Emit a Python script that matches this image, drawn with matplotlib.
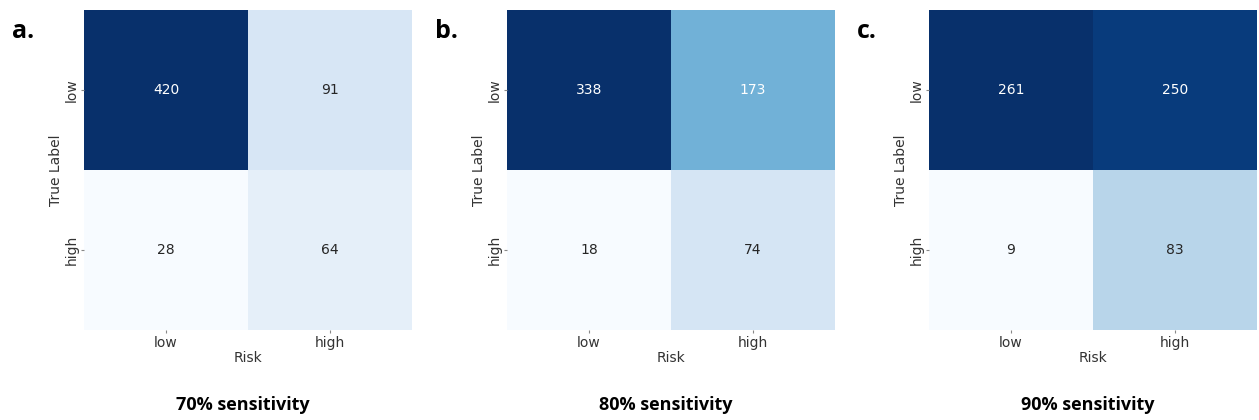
import numpy as np
import matplotlib
matplotlib.use("Agg")
import matplotlib.pyplot as plt
import seaborn as sns

labels = ["low", "high"]
cm_70 = [[420, 91], [28, 64]]
cm_80 = [[338, 173], [18, 74]]
cm_90 = [[261, 250], [9, 83]]
panel_letters = ["a.", "b.", "c."]
captions = ["70% sensitivity", "80% sensitivity", "90% sensitivity"]

fig = plt.figure(figsize=(12.59, 4.2), dpi=100)

lefts = [84, 507, 929]
for i, cm in enumerate([cm_70, cm_80, cm_90]):
    ax = fig.add_axes([lefts[i] / 1259, 90 / 420, 328 / 1259, 320 / 420])
    sns.heatmap(np.array(cm), annot=True, fmt="d", cmap="Blues", cbar=False,
                xticklabels=labels, yticklabels=labels, ax=ax,
                annot_kws={"fontsize": 10})
    ax.set_xlabel("Risk", fontsize=10, color="#333333", labelpad=1)
    ax.set_ylabel("True Label", fontsize=10, color="#333333", labelpad=1)
    ax.tick_params(labelsize=10, length=2, pad=2, labelcolor="#333333",
                   color="#888888")
    fig.text((lefts[i] - 72) / 1259, 1 - 32 / 420, panel_letters[i],
             fontsize=18, fontweight="bold", family="Open Sans",
             ha="left", va="center")
    fig.text((lefts[i] + 159) / 1259, 1 - 405 / 420, captions[i],
             fontsize=13, fontweight="bold", family="Open Sans",
             ha="center", va="center")

fig.savefig("out.png", dpi=100)
